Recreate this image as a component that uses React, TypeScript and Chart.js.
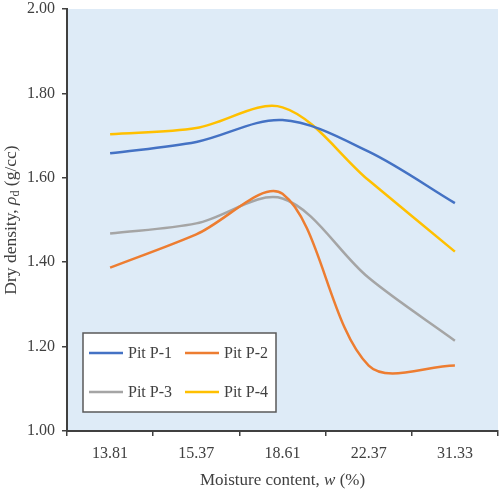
import React, { useEffect, useRef } from "react";
import { Chart, registerables } from "chart.js";

Chart.register(...registerables);

const categories = ["13.81", "15.37", "18.61", "22.37", "31.33"];
const pitP1 = [1.658, 1.685, 1.737, 1.662, 1.54];
const pitP2 = [1.387, 1.466, 1.562, 1.155, 1.155];
const pitP3 = [1.468, 1.492, 1.551, 1.363, 1.214];
const pitP4 = [1.703, 1.718, 1.767, 1.594, 1.425];
const seriesNames = ["Pit P-1", "Pit P-2", "Pit P-3", "Pit P-4"];
const seriesColors = ["#4472C4", "#ED7D31", "#A5A5A5", "#FFC000"];
const yMin = 1.0;
const yMax = 2.0;
const yStep = 0.2;

const FONT = "'Liberation Serif', 'Times New Roman', serif";
const TEXT = "#404040";

type Seg = { t: string; style?: string; size?: number; dy?: number };

function drawSegs(ctx: CanvasRenderingContext2D, segs: Seg[], baseSize: number) {
  let total = 0;
  const widths: number[] = [];
  for (const s of segs) {
    ctx.font = `${s.style || ""} ${s.size || baseSize}px ${FONT}`;
    const w = ctx.measureText(s.t).width;
    widths.push(w);
    total += w;
  }
  let x = -total / 2;
  segs.forEach((s, i) => {
    ctx.font = `${s.style || ""} ${s.size || baseSize}px ${FONT}`;
    ctx.fillText(s.t, x, s.dy || 0);
    x += widths[i];
  });
}

const decorPlugin = {
  id: "decor",
  beforeDraw(chart: any) {
    const { ctx, chartArea } = chart;
    ctx.save();
    ctx.fillStyle = "#DEEBF7";
    ctx.fillRect(chartArea.left, chartArea.top, chartArea.right - chartArea.left, chartArea.bottom - chartArea.top);
    ctx.restore();
  },
  afterDraw(chart: any) {
    const { ctx, chartArea } = chart;
    ctx.save();
    ctx.fillStyle = TEXT;
    ctx.textBaseline = "alphabetic";
    ctx.textAlign = "left";
    // x title
    ctx.save();
    ctx.translate((chartArea.left + chartArea.right) / 2, 485);
    drawSegs(ctx, [
      { t: "Moisture content, " },
      { t: "w", style: "italic" },
      { t: " (%)" },
    ], 17);
    ctx.restore();
    // y title
    ctx.save();
    ctx.translate(16, (chartArea.top + chartArea.bottom) / 2);
    ctx.rotate(-Math.PI / 2);
    drawSegs(ctx, [
      { t: "Dry density, " },
      { t: "ρ", style: "italic" },
      { t: "d", size: 12, dy: 3 },
      { t: " (g/cc)" },
    ], 17.5);
    ctx.restore();

    // legend
    const bx = chartArea.left + 16;
    const by = chartArea.bottom - 98;
    const bw = 193;
    const bh = 79;
    ctx.fillStyle = "#FFFFFF";
    ctx.fillRect(bx, by, bw, bh);
    ctx.strokeStyle = "#595959";
    ctx.lineWidth = 1.5;
    ctx.strokeRect(bx, by, bw, bh);
    const cols = [6, 102];
    const rows = [20, 59];
    ctx.font = `16px ${FONT}`;
    ctx.textBaseline = "middle";
    seriesNames.forEach((name, i) => {
      const cx = bx + cols[i % 2];
      const cy = by + rows[Math.floor(i / 2)];
      ctx.strokeStyle = seriesColors[i];
      ctx.lineWidth = 2.5;
      ctx.beginPath();
      ctx.moveTo(cx, cy);
      ctx.lineTo(cx + 34, cy);
      ctx.stroke();
      ctx.fillStyle = TEXT;
      ctx.fillText(name, cx + 39, cy + 1);
    });
    ctx.restore();
  },
};

export default function App() {
  const ref = useRef<HTMLCanvasElement>(null);
  useEffect(() => {
    if (!ref.current) return;
    const values = [pitP1, pitP2, pitP3, pitP4];
    const chart = new Chart(ref.current, {
      type: "line",
      data: {
        labels: categories,
        datasets: seriesNames.map((name, i) => ({
          label: name,
          data: values[i],
          borderColor: seriesColors[i],
          backgroundColor: seriesColors[i],
          borderWidth: 2.5,
          pointRadius: 0,
          tension: 0.33,
          fill: false,
        })),
      },
      options: {
        animation: false,
        responsive: false,
        layout: { padding: { top: 9, right: 2, left: 0, bottom: 0 } },
        plugins: {
          legend: { display: false },
          tooltip: { enabled: false },
        },
        scales: {
          x: {
            type: "category",
            offset: true,
            afterFit: (s: any) => { s.height = 59; s.paddingLeft = 0; s.paddingRight = 0; },
            grid: {
              offset: true,
              drawOnChartArea: false,
              drawTicks: true,
              tickLength: 5,
              color: "#404040",
              lineWidth: 1.5,
            },
            border: { display: true, color: "#404040", width: 2 },
            ticks: { color: TEXT, font: { family: FONT, size: 16 }, padding: 8, maxRotation: 0 },
          },
          y: {
            min: yMin,
            max: yMax,
            afterFit: (s: any) => { s.width = 67; s.paddingTop = 0; s.paddingBottom = 0; },
            grid: {
              drawOnChartArea: false,
              drawTicks: true,
              tickLength: 5,
              color: "#404040",
              lineWidth: 1.5,
            },
            border: { display: true, color: "#404040", width: 2 },
            ticks: {
              stepSize: yStep,
              color: TEXT,
              font: { family: FONT, size: 16 },
              padding: 7,
              callback: (v: any) => Number(v).toFixed(2),
            },
          },
        },
      },
      plugins: [decorPlugin],
    });
    return () => chart.destroy();
  }, []);
  return (
    <div style={{ position: "absolute", left: 0, top: 0, width: 500, height: 490, background: "#fff" }}>
      <canvas ref={ref} width={500} height={490} />
    </div>
  );
}
